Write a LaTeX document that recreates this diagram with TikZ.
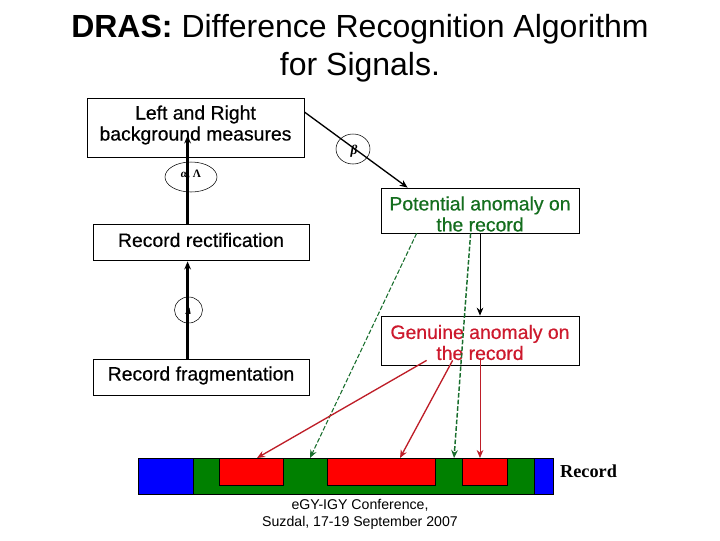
\documentclass[tikz,border=0pt]{standalone}
\usepackage{fontspec}
\setmainfont{Liberation Sans}
\newfontfamily\serifrec{Liberation Serif}
\newfontfamily\boxfont[FakeBold=0.5]{Liberation Sans}
\usetikzlibrary{arrows.meta,calc,shapes.geometric}
\definecolor{gtxt}{RGB}{20,110,30}
\definecolor{rtxt}{RGB}{205,25,45}
\definecolor{rln}{RGB}{190,30,40}
\definecolor{dgreen}{RGB}{0,128,0}
\definecolor{dashgreen}{RGB}{25,110,45}
\tikzset{
 box/.style={draw=black,fill=white,line width=0.6pt,minimum width=#1,inner sep=0pt},
 boxtext/.style={inner sep=0pt,align=center,font=\boxfont\fontsize{14.55}{15.75}\selectfont},
 seg/.style={draw=black,line width=0.5pt,inner sep=0pt,anchor=north west},
 lens/.style={draw=black,line width=0.4pt,ellipse,inner sep=0pt},
 arr/.style={line width=#1,-{Stealth[length=6pt,width=5pt]}},
 arr/.default=0.8pt,
 greenarr/.style={arr=#1,color=dashgreen,dash pattern=on 3.5pt off 1.5pt},
 redarr/.style={arr=#1,color=rln},
 sym/.style={font=\serifrec\bfseries\fontsize{#1}{#1}\selectfont,inner sep=0pt}
}
\begin{document}
\begin{tikzpicture}[x=0.75pt,y=-0.75pt]
\useasboundingbox (0,0) rectangle (720,540);
\node[font=\fontsize{24}{28.5}\selectfont,align=center,inner sep=0pt] (title) at (360,48.5) {\textbf{DRAS:} Difference Recognition Algorithm\\for Signals.};
% boxes
\node[box=162.75pt,minimum height=44.25pt] (lr) at (195.5,127.5) {};
\node[box=162pt,minimum height=27pt] (rect) at (201,242) {};
\node[box=162pt,minimum height=27pt] (frag) at (201,377) {};
\node[box=148.5pt,minimum height=33.75pt] (pot) at (480,210.5) {};
\node[box=148.5pt,minimum height=36.75pt] (gen) at (480,340.5) {};
\node[boxtext] (lrt) at (195.5,125) {Left and Right\\background measures};
\node[boxtext] (rectt) at (201,240) {Record rectification};
\node[boxtext] (fragt) at (201,375.5) {Record fragmentation};
\node[boxtext,text=gtxt] (pott) at (480,214) {Potential anomaly on\\the record};
\node[boxtext,text=rtxt] (gent) at (480,342.5) {Genuine anomaly on\\the record};
% lenses
\node[lens,minimum width=39pt,minimum height=22.5pt] (la) at (191,177) {};
\node[lens,minimum width=25.5pt,minimum height=22.5pt] (lb) at (353,149) {};
\node[lens,minimum width=21pt,minimum height=19.5pt] (lc) at (188.5,310) {};
\node[sym=8.5] (ta) at (191,175) {\textit{α}, Λ};
\node[sym=10] (tb) at (354,151) {\textit{β}};
\node[sym=7] (tc) at (188.5,311) {\textit{Δ}};
% record bar
\node[seg,fill=blue,minimum width=41.25pt,minimum height=27pt] (b1) at (138,458) {};
\node[seg,fill=dgreen,minimum width=255.75pt,minimum height=27pt] (g) at (193,458) {};
\node[seg,fill=blue,minimum width=14.25pt,minimum height=27pt] (b2) at (534,458) {};
\node[seg,fill=red,minimum width=48pt,minimum height=20.25pt] (r1) at (219,458) {};
\node[seg,fill=red,minimum width=81pt,minimum height=20.25pt] (r2) at (327,458) {};
\node[seg,fill=red,minimum width=33.75pt,minimum height=20.25pt] (r3) at (462,458) {};
\node[font=\serifrec\bfseries\fontsize{13.7}{16}\selectfont,inner sep=0pt] (rec) at (588.5,471) {Record};
\node[font=\fontsize{10.6}{12.75}\selectfont,align=center,inner sep=0pt] (conf) at (360,514.5) {eGY-IGY Conference,\\Suzdal, 17-19 September 2007};
% connectors
\draw[arr=1.7pt] ($(rect.north west)+(95,0)$) -- ($(lr.south west)+(101,-22)$);
\draw[arr=1.7pt] ($(frag.north west)+(95,0)$) -- ($(rect.south west)+(95,1)$);
\draw[arr=1pt] (lr.north east |- 0,112) -- ($(pot.north west)+(27,0)$);
\draw[arr=0.6pt] (pot.south) -- (gen.north);
\draw[greenarr=0.8pt] ($(pot.south west)+(36,0)$) -- ($(g.north west)+(117,0)$);
\draw[greenarr=1.1pt] ($(pot.south west)+(90,0)$) -- ($(g.north west)+(261,0)$);
\draw[redarr=1pt] ($(gen.south west)+(46,-5)$) -- ($(r1.north west)+(38,0)$);
\draw[redarr=1pt] ($(gen.south west)+(72,-5)$) -- ($(r2.north west)+(73,0)$);
\draw[redarr=0.6pt] ($(gen.south)+(0,-7)$) -- ($(r3.north west)+(18,0)$);
\end{tikzpicture}
\end{document}
